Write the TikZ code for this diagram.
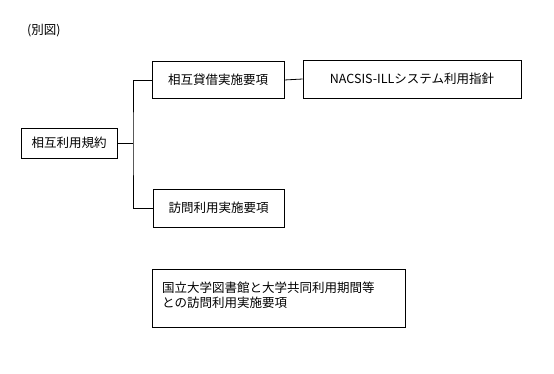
\documentclass[tikz,border=0pt]{standalone}
\usepackage{fontspec}
\setmainfont{Noto Sans CJK JP}
\begin{document}
\begin{tikzpicture}[x=1pt,y=-1pt,
  every node/.style={font=\fontsize{12.5}{15}\selectfont},
  boxn/.style={draw,line width=0.8pt,inner sep=0pt,minimum width=#1},
  ln/.style={line width=0.8pt}]
\useasboundingbox (0,0) rectangle (554,374);
\node[anchor=west,inner sep=0pt] (title) at (27,31) {(別図)};
\node[boxn=96pt,minimum height=30pt] (kiyaku) at (69,143) {相互利用規約};
\node[boxn=132pt,minimum height=37pt] (taisha) at (218,80) {相互貸借実施要項};
\node[boxn=218pt,minimum height=38pt] (nacsis) at (412,79) {NACSIS-ILLシステム利用指針};
\node[boxn=131pt,minimum height=38pt] (homon) at (218.5,208) {訪問利用実施要項};
\node[boxn=253pt,minimum height=58pt] (kokuritsu) at (278.5,298) {};
\node[anchor=north west,align=left,inner sep=0pt] (ktext) at (162,282) {国立大学図書館と大学共同利用期間等\\との訪問利用実施要項};
\coordinate (j) at (133,143);
\draw[ln] (kiyaku.east) -- (j);
\draw[ln] (taisha.west) -| (j) |- (homon.west);
\draw[ln] (taisha.east) -- (nacsis.west);
\end{tikzpicture}
\end{document}
